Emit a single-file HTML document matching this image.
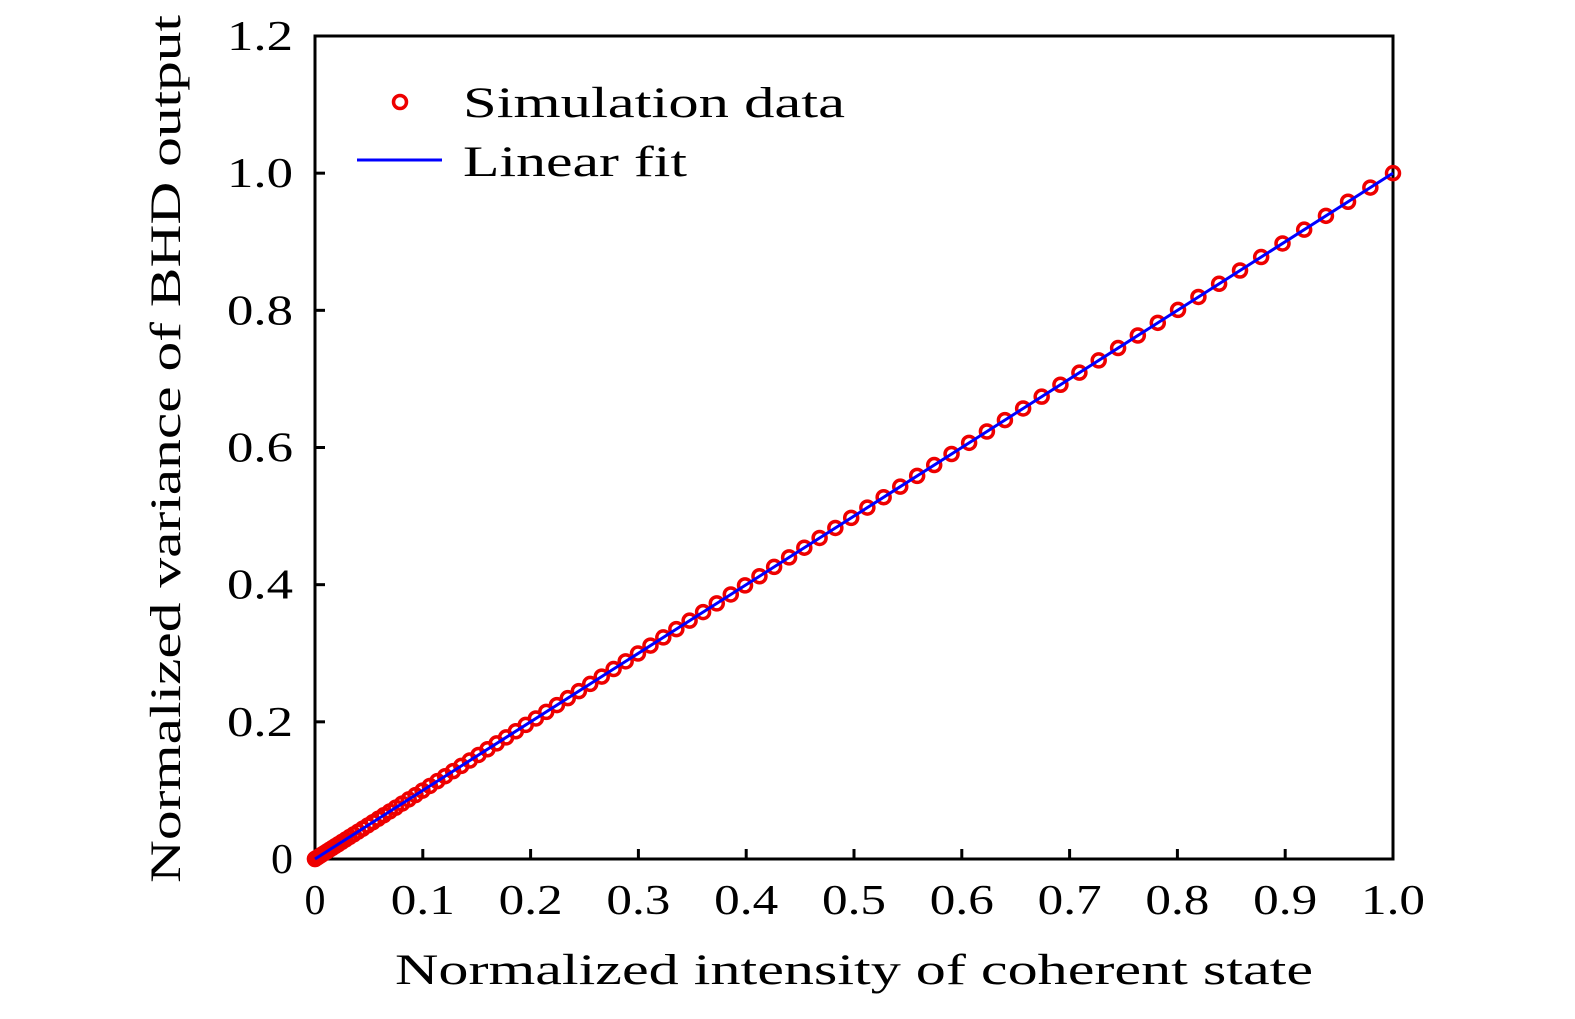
<!DOCTYPE html>
<html><head><meta charset="utf-8"><style>
body{margin:0;background:#fff}
svg text{font-family:"Liberation Serif",serif;fill:#000}
</style></head><body>
<svg id="c" width="1575" height="1014" xmlns="http://www.w3.org/2000/svg">
<rect x="315" y="36" width="1078" height="823" fill="none" stroke="#000" stroke-width="3"/>
<g id="ticks"></g>
<line x1="357" y1="160" x2="442" y2="160" stroke="#00f" stroke-width="3"/>
<circle cx="400" cy="102" r="6.5" fill="none" stroke="#e00" stroke-width="3.5"/>
<text x="463" y="117" font-size="43" textLength="382" lengthAdjust="spacingAndGlyphs">Simulation data</text>
<text x="463" y="176" font-size="43" textLength="224" lengthAdjust="spacingAndGlyphs">Linear fit</text>
<text x="395" y="984" font-size="43" textLength="918" lengthAdjust="spacingAndGlyphs">Normalized intensity of coherent state</text>
<text transform="translate(180,883) rotate(-90)" font-size="43" textLength="868" lengthAdjust="spacingAndGlyphs">Normalized variance of BHD output</text>
<g id="marks"></g>
</svg>
<script>
const xTicks=[0,0.1,0.2,0.3,0.4,0.5,0.6,0.7,0.8,0.9,1.0];
const xTickLabels=["0","0.1","0.2","0.3","0.4","0.5","0.6","0.7","0.8","0.9","1.0"];
const yTicks=[0,0.2,0.4,0.6,0.8,1.0,1.2];
const yTickLabels=["0","0.2","0.4","0.6","0.8","1.0","1.2"];
const simX=[0,.0001,.0004,.001,.0018,.0028,.004,.0054,.0071,.009,.0111,.0134,.016,.0187,.0217,.0249,.0284,.032,.0359,.04,.0443,.0489,.0536,.0586,.0638,.0693,.0749,.0808,.0869,.0932,.0997,.1065,.1135,.1207,.1281,.1357,.1436,.1517,.16,.1685,.1773,.1863,.1955,.2049,.2145,.2244,.2345,.2448,.2553,.266,.277,.2882,.2996,.3112,.3231,.3352,.3475,.36,.3727,.3857,.3989,.4123,.4259,.4398,.4539,.4681,.4827,.4974,.5124,.5275,.5429,.5586,.5744,.5905,.6068,.6233,.64,.6569,.6741,.6915,.7091,.727,.745,.7633,.7818,.8006,.8195,.8387,.8581,.8777,.8975,.9176,.9378,.9583,.979,1];
const simY=[0,.0001,.0004,.001,.0018,.0028,.004,.0054,.0071,.009,.0111,.0134,.016,.0187,.0217,.0249,.0284,.032,.0359,.04,.0443,.0489,.0536,.0586,.0638,.0693,.0749,.0808,.0869,.0932,.0997,.1065,.1135,.1207,.1281,.1357,.1436,.1517,.16,.1685,.1773,.1863,.1955,.2049,.2145,.2244,.2345,.2448,.2553,.266,.277,.2882,.2996,.3112,.3231,.3352,.3475,.36,.3727,.3857,.3989,.4123,.4259,.4398,.4539,.4681,.4827,.4974,.5124,.5275,.5429,.5586,.5744,.5905,.6068,.6233,.64,.6569,.6741,.6915,.7091,.727,.745,.7633,.7818,.8006,.8195,.8387,.8581,.8777,.8975,.9176,.9378,.9583,.979,1];
const fitX=[0,1];
const fitY=[0,1];
const NS="http://www.w3.org/2000/svg";
const sx=v=>315+v*1078;
const sy=v=>859-v*(823/1.2);
const tg=document.getElementById('ticks'), mg=document.getElementById('marks');
function mk(tag,attrs,parent){const e=document.createElementNS(NS,tag);for(const k in attrs)e.setAttribute(k,attrs[k]);parent.appendChild(e);return e;}
xTicks.forEach((v,i)=>{
  const l=mk('line',{x1:sx(v),x2:sx(v),y1:859,y2:849,stroke:'#000','stroke-width':3},tg);
  
  
  const lab=xTickLabels[i];
  const w=lab.length>1?64:21;
  const t=mk('text',{x:sx(v)-w/2,y:914,'font-size':42,textLength:w,lengthAdjust:'spacingAndGlyphs'},tg);
  t.textContent=lab;
  
  
});
yTicks.forEach((v,i)=>{
  const l=mk('line',{x1:315,x2:325,y1:sy(v),y2:sy(v),stroke:'#000','stroke-width':3},tg);
  
  
  const lab=yTickLabels[i];
  const w=lab.length>1?66:22;
  const t=mk('text',{x:293-w,y:sy(v)+14,'font-size':42,textLength:w,lengthAdjust:'spacingAndGlyphs'},tg);
  t.textContent=lab;
  
  
});
simX.forEach((v,i)=>{
  const c=mk('circle',{cx:sx(v),cy:sy(simY[i]),r:6.5,fill:'none',stroke:'#e00','stroke-width':3.5},mg);
  
  
});
const fl=mk('polyline',{points:fitX.map((v,i)=>sx(v)+','+sy(fitY[i])).join(' '),fill:'none',stroke:'#00f','stroke-width':3},mg);


</script>
</body></html>
